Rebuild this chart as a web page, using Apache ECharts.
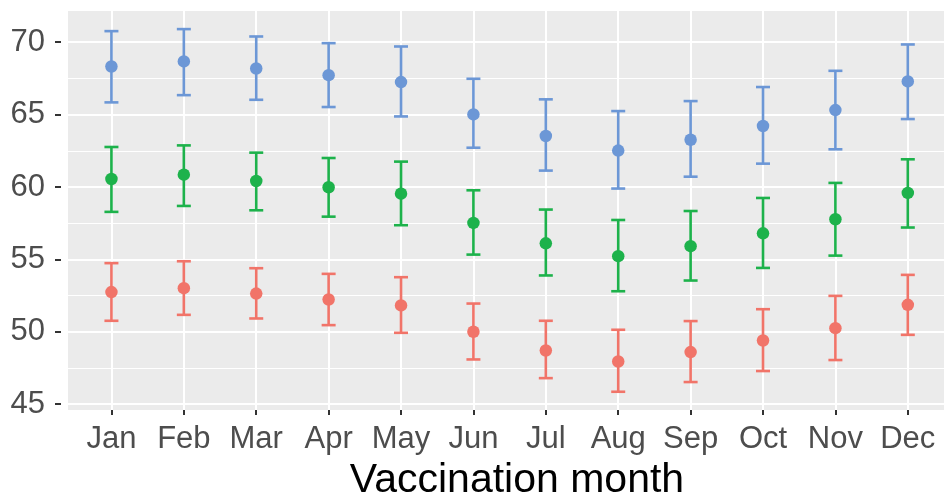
<!DOCTYPE html>
<html>
<head>
<meta charset="utf-8">
<script src="https://cdn.jsdelivr.net/npm/echarts@6/dist/echarts.min.js"></script>
<style>
  html, body { margin: 0; padding: 0; background: #fff; }
  #chart { width: 944px; height: 502px; }
</style>
</head>
<body>
<div id="chart"></div>
<script>
// months on the x axis
const months = ['Jan', 'Feb', 'Mar', 'Apr', 'May', 'Jun', 'Jul', 'Aug', 'Sep', 'Oct', 'Nov', 'Dec']

// red group (lowest)
const redMean  = [52.74, 53.01, 52.64, 52.23, 51.82, 50.00, 48.71, 47.95, 48.60, 49.40, 50.25, 51.86]
const redLow   = [50.76, 51.17, 50.92, 50.46, 49.93, 48.09, 46.80, 45.86, 46.53, 47.29, 48.05, 49.79]
const redHigh  = [54.74, 54.87, 54.39, 54.00, 53.77, 51.95, 50.76, 50.14, 50.74, 51.56, 52.48, 53.93]

// green group (middle)
const greenMean = [60.55, 60.85, 60.41, 59.98, 59.54, 57.52, 56.11, 55.22, 55.91, 56.80, 57.77, 59.59]
const greenLow  = [58.28, 58.69, 58.39, 57.95, 57.36, 55.33, 53.89, 52.80, 53.54, 54.41, 55.26, 57.20]
const greenHigh = [62.76, 62.87, 62.37, 62.00, 61.75, 59.77, 58.44, 57.72, 58.34, 59.24, 60.28, 61.91]

// blue group (highest)
const blueMean = [68.32, 68.67, 68.18, 67.72, 67.24, 65.01, 63.52, 62.51, 63.26, 64.21, 65.31, 67.29]
const blueLow  = [65.84, 66.34, 66.02, 65.52, 64.87, 62.71, 61.13, 59.89, 60.71, 61.61, 62.60, 64.69]
const blueHigh = [70.76, 70.90, 70.39, 69.93, 69.70, 67.47, 66.05, 65.24, 65.93, 66.90, 68.02, 69.84]

const yTicks = [45, 50, 55, 60, 65, 70]
const yMinor = [47.5, 52.5, 57.5, 62.5, 67.5]

const groups = [
  { name: 'red', color: '#F17469', mean: redMean, low: redLow, high: redHigh },
  { name: 'green', color: '#1DB24B', mean: greenMean, low: greenLow, high: greenHigh },
  { name: 'blue', color: '#6C97D6', mean: blueMean, low: blueLow, high: blueHigh }
]

const monthIdx = months.map((m, i) => i)
const font = "'Liberation Sans', Arial, sans-serif"

const chart = echarts.init(document.getElementById('chart'))

const series = []
groups.forEach(g => {
  // error bars
  series.push({
    name: g.name + '-err',
    type: 'custom',
    xAxisIndex: 0,
    yAxisIndex: 0,
    data: months.map((m, i) => [i, g.low[i], g.high[i]]),
    renderItem: function (params, api) {
      const lo = api.coord([api.value(0), api.value(1)])
      const hi = api.coord([api.value(0), api.value(2)])
      const half = 7
      const style = { stroke: g.color, lineWidth: 2.6, fill: null }
      return {
        type: 'group',
        children: [
          { type: 'line', shape: { x1: lo[0], y1: lo[1], x2: hi[0], y2: hi[1] }, style: style },
          { type: 'line', shape: { x1: lo[0] - half, y1: lo[1], x2: lo[0] + half, y2: lo[1] }, style: style },
          { type: 'line', shape: { x1: hi[0] - half, y1: hi[1], x2: hi[0] + half, y2: hi[1] }, style: style }
        ]
      }
    },
    silent: true,
    z: 2
  })
  // mean points
  series.push({
    name: g.name,
    type: 'scatter',
    xAxisIndex: 0,
    yAxisIndex: 0,
    data: months.map((m, i) => [i, g.mean[i]]),
    symbol: 'circle',
    symbolSize: 12.5,
    itemStyle: { color: g.color, opacity: 1 },
    z: 3
  })
})

const option = {
  animation: false,
  backgroundColor: '#fff',
  grid: {
    left: 68,
    right: 0,
    top: 11,
    bottom: 92,
    outerBoundsMode: 'none',
    containLabel: false,
    show: true,
    backgroundColor: '#EBEBEB',
    borderWidth: 0
  },
  xAxis: {
    type: 'value',
    min: -0.6,
    max: 11.5,
    name: 'Vaccination month',
    nameLocation: 'middle',
    nameGap: 49,
    nameTextStyle: { color: '#000', fontSize: 41, fontFamily: font, padding: [0, 0, 0, 22] },
    axisLine: { show: false, onZero: false },
    axisTick: { show: true, customValues: monthIdx, length: 5, lineStyle: { color: '#333', width: 2 } },
    axisLabel: {
      customValues: monthIdx,
      formatter: v => months[Math.round(v)],
      color: '#4D4D4D',
      fontSize: 31,
      fontFamily: font,
      margin: 14
    },
    splitLine: { show: true, lineStyle: { color: '#fff', width: 2 } }
  },
  yAxis: [
    {
      type: 'value',
      min: 44.6,
      max: 72.15,
      offset: 7,
      axisLine: { show: false, onZero: false },
      axisTick: { show: true, customValues: yTicks, length: 6, lineStyle: { color: '#333', width: 2 } },
      axisLabel: {
        customValues: yTicks,
        color: '#4D4D4D',
        fontSize: 31,
        fontFamily: font,
        margin: 16
      },
      splitLine: { show: true, lineStyle: { color: '#fff', width: 2 } }
    },
    {
      type: 'value',
      min: 44.6,
      max: 72.15,
      position: 'left',
      axisLine: { show: false, onZero: false },
      axisTick: { show: false, customValues: yMinor },
      axisLabel: { show: false, customValues: yMinor },
      splitLine: { show: true, lineStyle: { color: '#fff', width: 1.2 } }
    }
  ],
  series: series
}

chart.setOption(option)
</script>
</body>
</html>
